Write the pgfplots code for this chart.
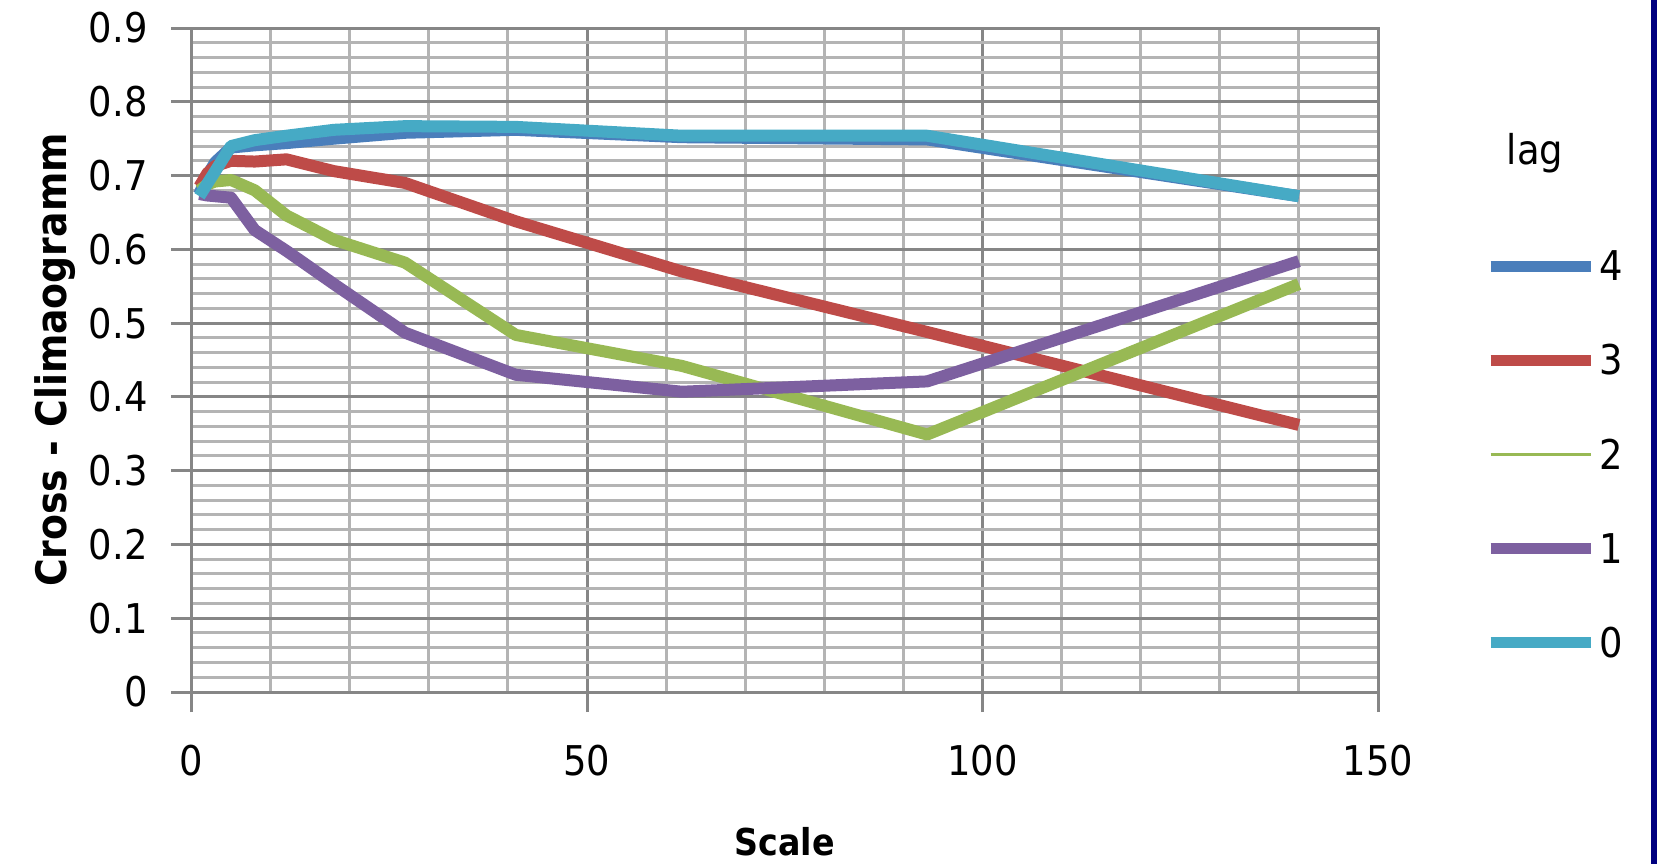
\documentclass[border=0pt]{standalone}
\usepackage{fontspec}
\setmainfont{DejaVu Sans Condensed}
\usepackage{pgfplots}
\pgfplotsset{compat=1.18}
\definecolor{sFour}{HTML}{4A7EBB}
\definecolor{sThree}{HTML}{BE4B48}
\definecolor{sTwo}{HTML}{98B954}
\definecolor{sOne}{HTML}{7D60A0}
\definecolor{sZero}{HTML}{46AAC5}
\definecolor{gmaj}{HTML}{868686}
\definecolor{gmin}{HTML}{B4B4B4}
\definecolor{navyb}{HTML}{00007F}
\pgfplotsset{
  thicklegend/.style={legend image code/.code={\draw[##1, line width=5.5pt] (0pt,0.5pt) -- (50pt,0.5pt);}},
  thinlegend/.style={legend image code/.code={\draw[##1, line width=1.75pt] (0pt,0.5pt) -- (50pt,0.5pt);}},
}
\begin{document}
\begin{tikzpicture}
\useasboundingbox (-95.75pt,-86pt) rectangle (732.75pt,346pt);
\fill[white] (-95.75pt,-86pt) rectangle (732.75pt,346pt);
\begin{axis}[
  scale only axis, width=593.25pt, height=332pt,
  xmin=0, xmax=150, ymin=0, ymax=0.9,
  xtick={0,50,100,150},
  minor xtick={10,20,30,40,60,70,80,90,110,120,130,140},
  ytick={0,0.1,0.2,0.3,0.4,0.5,0.6,0.7,0.8,0.9},
  minor y tick num=4,
  grid=both,
  major grid style={color=gmaj, line width=1.5pt},
  minor grid style={color=gmin, line width=1.5pt},
  axis line style={color=gmaj, line width=1.5pt},
  tick align=outside, tick pos=left,
  major tick length=10pt, minor tick length=0pt,
  every tick/.style={color=gmaj, line width=1.5pt},
  /pgf/number format/assume math mode=true,
  tick label style={font=\fontsize{20.5}{24}\selectfont},
  xticklabel style={anchor=base, yshift=-31.5pt},
  yticklabel style={anchor=east, inner sep=0pt, xshift=-11.75pt},
  xlabel={Scale},
  ylabel={Cross - Climaogramm},
  xlabel style={font=\bfseries\fontsize{18.5}{22}\selectfont, at={(rel axis cs:0.5,-0.226)}, anchor=center},
  ylabel style={font=\bfseries\fontsize{21}{25}\selectfont, at={(rel axis cs:-0.1148,0.5)}, anchor=center},
  clip=false,
  legend style={at={(rel axis cs:1.09,0.356)}, anchor=west, draw=none, fill=none,
    inner sep=0pt, row sep=27.5pt, font=\fontsize{20.5}{24}\selectfont,
    nodes={inner sep=1.5pt}},
  legend cell align=left,
  thicklegend,
  every axis plot/.append style={line width=6pt, line join=round},
]
\addplot[sFour] coordinates {(1,0.675)(2,0.700)(3,0.718)(5,0.738)(8,0.741)(12,0.744)(18,0.750)(27,0.758)(41,0.762)(62,0.752)(93,0.749)(140,0.672)};
\addlegendentry{4}
\addplot[sThree] coordinates {(1,0.685)(2,0.703)(3,0.713)(5,0.720)(8,0.719)(12,0.722)(18,0.706)(27,0.690)(41,0.638)(62,0.570)(93,0.488)(140,0.362)};
\addlegendentry{3}
\addplot[sTwo, thinlegend] coordinates {(1,0.680)(2,0.688)(3,0.692)(5,0.694)(8,0.680)(12,0.646)(18,0.613)(27,0.582)(41,0.484)(62,0.442)(93,0.349)(140,0.553)};
\addlegendentry{2}
\addplot[sOne] coordinates {(1,0.675)(2,0.673)(3,0.672)(5,0.670)(8,0.626)(12,0.598)(18,0.553)(27,0.487)(41,0.430)(62,0.407)(93,0.421)(140,0.584)};
\addlegendentry{1}
\addplot[sZero] coordinates {(1,0.672)(2,0.689)(3,0.706)(5,0.740)(8,0.748)(12,0.754)(18,0.762)(27,0.767)(41,0.766)(62,0.754)(93,0.754)(140,0.672)};
\addlegendentry{0}
\node[font=\fontsize{20.5}{24}\selectfont] at (rel axis cs:1.1323,0.8117) {lag};
\end{axis}
\fill[navyb] (729.75pt,-86pt) rectangle (732.75pt,346pt);
\end{tikzpicture}
\end{document}
